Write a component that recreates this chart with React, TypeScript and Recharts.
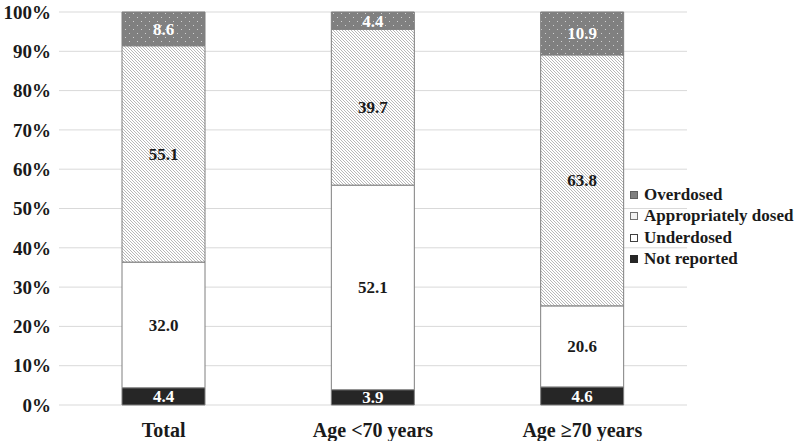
import { BarChart, Bar, XAxis, YAxis, CartesianGrid, LabelList } from "recharts";

const categories = ["Total", "Age <70 years", "Age \u226570 years"];
const notReported = [4.4, 3.9, 4.6];
const underdosed = [32.0, 52.1, 20.6];
const appropriatelyDosed = [55.1, 39.7, 63.8];
const overdosed = [8.6, 4.4, 10.9];
const yTicks = [0, 10, 20, 30, 40, 50, 60, 70, 80, 90, 100];

const data = categories.map((name, i) => ({
  name,
  notReported: notReported[i],
  underdosed: underdosed[i],
  appropriatelyDosed: appropriatelyDosed[i],
  overdosed: overdosed[i],
}));

// bottom to top
const series = [
  { key: "notReported", name: "Not reported", fill: "#262626", text: "#ffffff", mark: "#262626", markStroke: "#262626" },
  { key: "underdosed", name: "Underdosed", fill: "#ffffff", text: "#1a1a1a", mark: "#ffffff", markStroke: "#404040" },
  { key: "appropriatelyDosed", name: "Appropriately dosed", fill: "url(#hatch)", text: "#1a1a1a", mark: "#f2f2f2", markStroke: "#707070" },
  { key: "overdosed", name: "Overdosed", fill: "url(#dots)", text: "#ffffff", mark: "#808080", markStroke: "#606060" },
];

const font = "'Liberation Serif', 'Times New Roman', serif";

function LegendBox() {
  return (
    <div
      style={{
        position: "absolute",
        left: 630,
        top: 184,
        fontFamily: font,
        fontWeight: "bold",
        fontSize: 17,
        color: "#1a1a1a",
      }}
    >
      {[...series].reverse().map((s) => (
        <div key={s.key} style={{ display: "flex", alignItems: "center", height: 21.5, whiteSpace: "nowrap" }}>
          <span
            style={{
              display: "inline-block",
              width: 6,
              height: 6,
              background: s.mark,
              border: `1px solid ${s.markStroke}`,
              marginRight: 6,
            }}
          />
          {s.name}
        </div>
      ))}
    </div>
  );
}

export default function App() {
  return (
    <div style={{ position: "absolute", left: 0, top: 0, width: 796, height: 441, background: "#fff" }}>
      <BarChart
        width={796}
        height={441}
        data={data}
        stackOffset="expand"
        margin={{ top: 12, right: 109, left: 0, bottom: 0 }}
        barSize={83}
      >
        <defs>
          <pattern id="hatch" patternUnits="userSpaceOnUse" width="3" height="3">
            <rect width="3" height="3" fill="#ffffff" />
            <path d="M-1,-1 L4,4 M-1,2 L1,4 M2,-1 L4,1" stroke="#a6a6a6" strokeWidth="0.8" />
          </pattern>
          <pattern id="dots" patternUnits="userSpaceOnUse" width="8" height="8">
            <rect width="8" height="8" fill="#808080" />
            <rect x="1" y="1" width="1" height="1" fill="#d0d0d0" />
            <rect x="5" y="5" width="1" height="1" fill="#d0d0d0" />
          </pattern>
        </defs>
        <CartesianGrid vertical={false} stroke="#d9d9d9" />
        <XAxis
          dataKey="name"
          axisLine={false}
          tickLine={false}
          height={36}
          tickMargin={12}
          tick={{ fontFamily: font, fontWeight: "bold", fontSize: 20, fill: "#1a1a1a" }}
        />
        <YAxis
          width={59}
          domain={[0, 1]}
          ticks={yTicks.map((t) => t / 100)}
          interval={0}
          axisLine={false}
          tickLine={false}
          tickFormatter={(v: number) => `${Math.round(v * 100)}%`}
          tick={{ fontFamily: font, fontWeight: "bold", fontSize: 19, fill: "#1a1a1a" }}
        />
        {series.map((s) => (
          <Bar
            key={s.key}
            dataKey={s.key}
            name={s.name}
            stackId="a"
            fill={s.fill}
            stroke="#7f7f7f"
            strokeWidth={1}
            isAnimationActive={false}
          >
            <LabelList
              dataKey={s.key}
              position="center"
              formatter={(v: any) => Number(v).toFixed(1)}
              style={{ fontFamily: font, fontWeight: "bold", fontSize: 17, fill: s.text }}
            />
          </Bar>
        ))}
      </BarChart>
      <LegendBox />
    </div>
  );
}
